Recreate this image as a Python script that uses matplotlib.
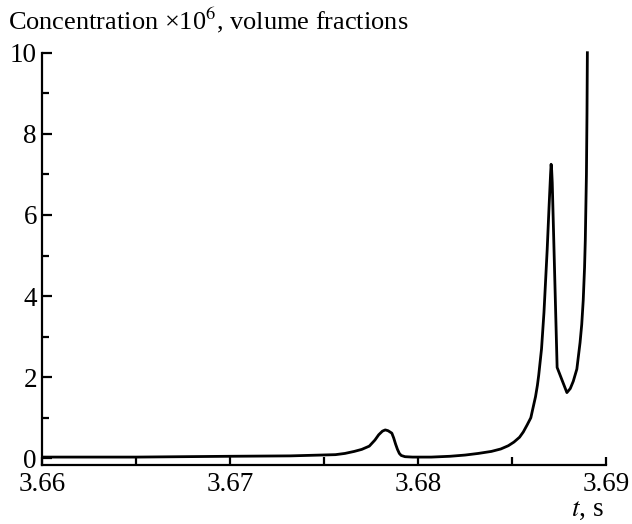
import matplotlib
matplotlib.use("Agg")
import matplotlib.pyplot as plt
from matplotlib.ticker import MultipleLocator, FixedFormatter, FixedLocator

# values
time_s = [3.6600, 3.6650, 3.6700, 3.6732, 3.6756, 3.6761, 3.6766, 3.6770,
          3.6774, 3.6777, 3.6779, 3.6781, 3.67825, 3.6784, 3.6786, 3.6787,
          3.6788, 3.6789, 3.6790, 3.6791, 3.6793, 3.6797, 3.6807, 3.6817,
          3.6825, 3.6832, 3.6839, 3.6844, 3.6848, 3.6851, 3.6854, 3.6856,
          3.6858, 3.6860, 3.68612, 3.68625, 3.68635, 3.68642, 3.68657,
          3.68670, 3.68687, 3.68697, 3.68705, 3.68708, 3.68711, 3.68714,
          3.68740, 3.68792, 3.68810, 3.68826, 3.68845, 3.68862, 3.68871,
          3.68879, 3.68886, 3.68890, 3.68896, 3.68899, 3.68901]
conc = [0.03, 0.03, 0.05, 0.06, 0.09, 0.12, 0.17, 0.22,
        0.30, 0.45, 0.58, 0.67, 0.70, 0.68, 0.62, 0.50,
        0.35, 0.22, 0.12, 0.07, 0.04, 0.03, 0.03, 0.05,
        0.08, 0.12, 0.17, 0.23, 0.31, 0.40, 0.52, 0.65,
        0.82, 1.00, 1.25, 1.52, 1.80, 2.05, 2.70,
        3.60, 5.14, 6.20, 7.00, 7.25, 7.10, 6.80,
        2.24, 1.62, 1.72, 1.90, 2.20, 2.85, 3.30,
        3.90, 4.70, 5.38, 7.00, 8.50, 10.0]

x_ticks = [3.66, 3.67, 3.68, 3.69]
x_tick_labels = ["3.66", "3.67", "3.68", "3.69"]
y_ticks = [0, 2, 4, 6, 8, 10]
y_tick_labels = ["0", "2", "4", "6", "8", "10"]

plt.rcParams["font.family"] = ["Liberation Serif", "DejaVu Serif"]
plt.rcParams["mathtext.fontset"] = "stix"

fig = plt.figure(figsize=(6.32, 5.24), dpi=100)
ax = fig.add_axes([0.0672, 0.1126, 0.8916, 0.7868])

ax.plot(time_s, conc, color="black", lw=2.0, solid_joinstyle="round", clip_on=False)

ax.set_xlim(3.66, 3.69)
ax.set_ylim(-0.165, 10)

ax.xaxis.set_major_locator(FixedLocator(x_ticks))
ax.xaxis.set_major_formatter(FixedFormatter(x_tick_labels))
ax.xaxis.set_minor_locator(MultipleLocator(0.005))
ax.yaxis.set_major_locator(FixedLocator(y_ticks))
ax.yaxis.set_major_formatter(FixedFormatter(y_tick_labels))
ax.yaxis.set_minor_locator(MultipleLocator(1))

for side in ["top", "right"]:
    ax.spines[side].set_visible(False)
for side in ["left", "bottom"]:
    ax.spines[side].set_linewidth(1.6)

ax.tick_params(axis="both", which="both", direction="in", width=1.6, labelsize=19.5)
ax.tick_params(axis="y", which="major", length=7, pad=4)
ax.tick_params(axis="y", which="minor", length=5)
ax.tick_params(axis="x", which="both", length=5.5, pad=5)

fig.text(0.013, 0.99, "Concentration \u00d710$^{6}$, volume fractions",
         fontsize=19, ha="left", va="top")
fig.text(0.955, 0.028, "$t$, s", fontsize=19.5, ha="right", va="center")

fig.savefig("out.png", dpi=100)
